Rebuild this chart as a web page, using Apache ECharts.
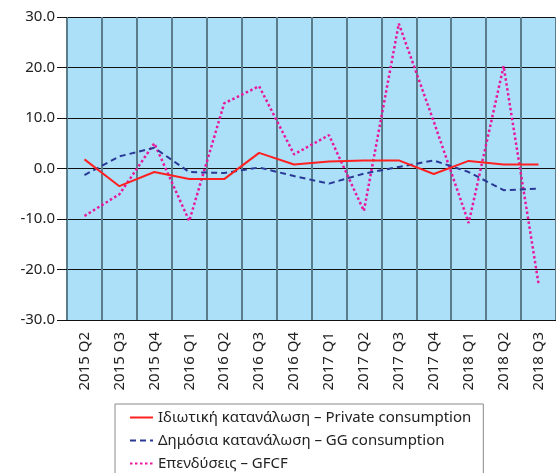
<!DOCTYPE html>
<html>
<head>
<meta charset="utf-8">
<script src="https://cdn.jsdelivr.net/npm/echarts@6/dist/echarts.min.js"></script>
<style>
  html, body { margin: 0; padding: 0; background: #fff; }
  #chart { width: 556px; height: 473px; }
</style>
</head>
<body>
<div id="chart"></div>
<script>
const quarters = ['2015 Q2', '2015 Q3', '2015 Q4', '2016 Q1', '2016 Q2', '2016 Q3', '2016 Q4',
  '2017 Q1', '2017 Q2', '2017 Q3', '2017 Q4', '2018 Q1', '2018 Q2', '2018 Q3']
const privateCons = [1.8, -3.5, -0.7, -2.1, -2.1, 3.1, 0.8, 1.4, 1.6, 1.6, -1.1, 1.5, 0.8, 0.8]
const ggCons = [-1.3, 2.4, 4.1, -0.7, -0.9, 0.2, -1.5, -3.0, -1.0, 0.3, 1.6, -0.7, -4.3, -4.0]
const gfcf = [-9.4, -5.1, 5.0, -10.4, 12.9, 16.3, 2.8, 6.6, -8.4, 28.7, 9.3, -10.8, 20.3, -22.8]
const seriesNames = [
  'Ιδιωτική κατανάλωση – Private consumption',
  'Δημόσια κατανάλωση – GG consumption',
  'Επενδύσεις – GFCF'
]

const chart = echarts.init(document.getElementById('chart'))
const font = 'Noto Sans'

const option = {
  animation: false,
  textStyle: { fontFamily: font },
  grid: {
    left: 67,
    top: 17,
    width: 490,
    height: 303,
    show: true,
    backgroundColor: '#abe0f8',
    borderWidth: 0
  },
  legend: {
    orient: 'vertical',
    left: 115,
    top: 404,
    height: 120,
    data: seriesNames,
    backgroundColor: '#fff',
    borderColor: '#8a8a8a',
    borderWidth: 1,
    borderRadius: 0,
    padding: [6, 12, 20, 14],
    itemWidth: 23,
    itemHeight: 14,
    itemGap: 8,
    itemStyle: { opacity: 0 },
    textStyle: { fontFamily: font, fontSize: 15, color: '#222' }
  },
  xAxis: {
    type: 'category',
    data: quarters,
    boundaryGap: true,
    axisLine: { show: false },
    axisTick: { show: false },
    axisLabel: {
      rotate: 90,
      interval: 0,
      margin: 12,
      fontSize: 15,
      color: '#222',
      fontFamily: font
    },
    splitLine: {
      show: true,
      interval: 0,
      lineStyle: { color: '#5b7c8a', width: 2 }
    }
  },
  yAxis: {
    type: 'value',
    min: -30,
    max: 30,
    interval: 10,
    axisLine: { show: false },
    axisTick: { show: true, length: 10, lineStyle: { color: '#111', width: 1 } },
    axisLabel: {
      margin: 12,
      fontSize: 15,
      color: '#222',
      fontFamily: font,
      formatter: v => v.toFixed(1)
    },
    splitLine: { lineStyle: { color: '#111', width: 1 } }
  },
  series: [
    {
      name: seriesNames[0],
      type: 'line',
      data: privateCons,
      symbol: 'none',
      z: 4,
      lineStyle: { color: '#ff2020', width: 2 },
      itemStyle: { color: '#ff2020' }
    },
    {
      name: seriesNames[1],
      type: 'line',
      data: ggCons,
      symbol: 'none',
      z: 3,
      lineStyle: { color: '#2a3896', width: 2, type: [6, 4] },
      itemStyle: { color: '#2a3896' }
    },
    {
      name: seriesNames[2],
      type: 'line',
      data: gfcf,
      symbol: 'none',
      z: 2,
      lineStyle: { color: '#e8189e', width: 2.5, type: [2.5, 2.5] },
      itemStyle: { color: '#e8189e' }
    }
  ]
}

chart.setOption(option)
</script>
</body>
</html>
